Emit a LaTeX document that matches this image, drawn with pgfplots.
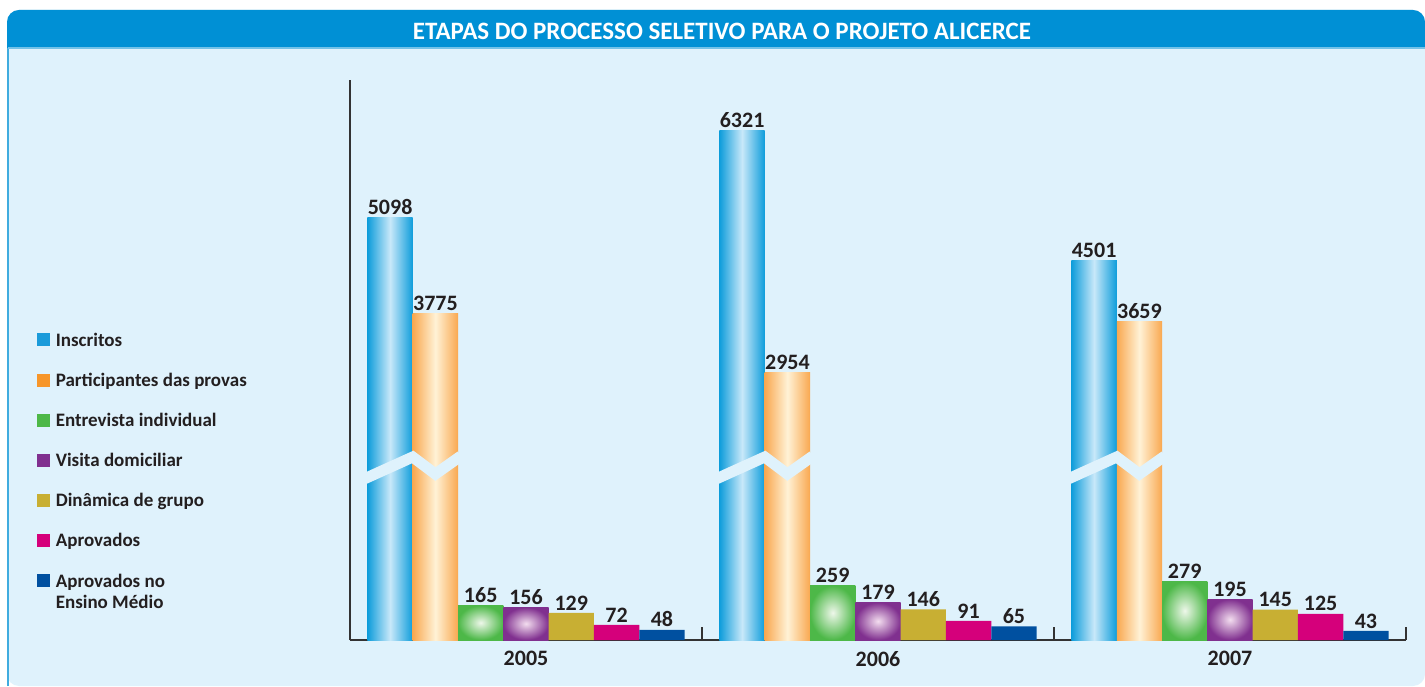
\documentclass[border=0pt]{standalone}
\usepackage{pgfplots}
\pgfplotsset{compat=1.18}
\usepackage{pgfplotstable}
\usepackage{fontspec}
\setmainfont{Carlito}

\definecolor{cbg}{HTML}{DFF2FC}
\definecolor{chead}{HTML}{0090D5}
\definecolor{ctext}{HTML}{231F20}
\definecolor{cins}{HTML}{1A9BDA}
\definecolor{cinse}{HTML}{0E9DDB}
\definecolor{cinsl}{HTML}{C8E8F9}
\definecolor{cpar}{HTML}{F7962A}
\definecolor{cpare}{HTML}{F9A850}
\definecolor{cparl}{HTML}{FFF2D6}
\definecolor{cent}{HTML}{4DB848}
\definecolor{centl}{HTML}{EEF7EA}
\definecolor{cvis}{HTML}{80308F}
\definecolor{cvisl}{HTML}{F3DDEF}
\definecolor{cdin}{HTML}{C8AF33}
\definecolor{capr}{HTML}{D5007B}
\definecolor{cem}{HTML}{0050A0}

% values per year (x = 0, 1, 2 -> 2005, 2006, 2007)
\pgfplotstableread{
x ins  part entr vis din apr aprem
0 5098 3775 165  156 129 72  48
1 6321 2954 259  179 146 91  65
2 4501 3659 279  195 145 125 43
}\etapas

% broken scale: small values linear below the cut, large ones compressed above it
\newcommand{\brk}[1]{((#1)<1000 ? 0.21*(#1) : 55.5+0.0719*(#1))}

\begin{document}
\begin{tikzpicture}[font=\bfseries]
\path[use as bounding box] (0,0) rectangle (712.5pt,343pt);
\fill[white] (0,0) rectangle (712.5pt,343pt);
% panel and header band
\fill[cbg, rounded corners=6pt] (3.5pt,0) |- (712.5pt,338pt) -- (712.5pt,0) -- cycle;
\fill[chead] (3.5pt,319pt) [rounded corners=6pt] -- (3.5pt,338pt) -- (712.5pt,338pt) [sharp corners] -- (712.5pt,319pt) -- cycle;
\draw[chead!75, line width=0.8pt] (3.9pt,0) -- (3.9pt,319pt);
\draw[chead!55, line width=0.6pt] (3.9pt,319pt) -- (712.5pt,319pt);
\node[text=white, font=\bfseries\fontsize{12.5}{14}\selectfont] at (361pt,327.5pt)
  {ETAPAS DO PROCESSO SELETIVO PARA O PROJETO ALICERCE};

\begin{axis}[
  at={(175pt,23pt)}, anchor=south west,
  scale only axis, width=528pt, height=280pt,
  xmin=-0.5, xmax=2.5, ymin=0, ymax=560,
  axis lines=left,
  axis line style={-, draw=black!80, line width=0.6pt},
  ytick=\empty,
  xtick={0,1,2}, xticklabels={2005,2006,2007},
  major tick length=0pt,
  extra x ticks={0.5,1.5,2.5}, extra x tick labels={},
  extra x tick style={major tick length=6.5pt, tick align=inside,
                      tick style={draw=black!80, line width=0.6pt}},
  xticklabel style={font=\bfseries\fontsize{11}{12}\selectfont, text=ctext, yshift=-2pt},
  ybar=0pt, bar width=0.1287,
  clip=false,
  point meta=explicit symbolic,
  nodes near coords={\pgfplotspointmeta},
  nodes near coords style={font=\bfseries\fontsize{11}{12}\selectfont, text=ctext,
                           inner sep=1.2pt, anchor=south},
  legend image code/.code={\fill[#1] (0pt,0.3pt) rectangle (6pt,6.3pt);},
  legend style={at={(axis description cs:-0.2964,0.557)}, anchor=north west,
                draw=none, fill=none, inner sep=0pt,
                font=\bfseries\fontsize{9.5}{12}\selectfont, text=ctext,
                cells={anchor=base west}, row sep=6.55pt,
                nodes={text height=7pt, text depth=2.5pt, inner xsep=2.8pt}},
]
% one plot per series and year, so that every bar gets its own shading
\pgfplotsinvokeforeach{0,1,2}{
\addplot[forget plot, draw=none, bar shift=-0.3861,
         left color=cinse, right color=cinse, middle color=cinsl,
         x filter/.expression={abs(x-#1)<0.1 ? x : nan}]
  table[x=x, y expr={\brk{\thisrow{ins}}}, meta=ins] {\etapas};
\addplot[forget plot, draw=none, bar shift=-0.2574,
         left color=cpare, right color=cpare, middle color=cparl,
         x filter/.expression={abs(x-#1)<0.1 ? x : nan}]
  table[x=x, y expr={\brk{\thisrow{part}}}, meta=part] {\etapas};
\addplot[forget plot, draw=none, bar shift=-0.1287,
         inner color=centl, outer color=cent,
         x filter/.expression={abs(x-#1)<0.1 ? x : nan}]
  table[x=x, y expr={\brk{\thisrow{entr}}}, meta=entr] {\etapas};
\addplot[forget plot, draw=none, bar shift=0,
         inner color=cvisl, outer color=cvis,
         x filter/.expression={abs(x-#1)<0.1 ? x : nan}]
  table[x=x, y expr={\brk{\thisrow{vis}}}, meta=vis] {\etapas};
}
\addplot[forget plot, draw=none, bar shift=0.1287, fill=cdin]
  table[x=x, y expr={\brk{\thisrow{din}}}, meta=din] {\etapas};
\addplot[forget plot, draw=none, bar shift=0.2574, fill=capr]
  table[x=x, y expr={\brk{\thisrow{apr}}}, meta=apr] {\etapas};
\addplot[forget plot, draw=none, bar shift=0.3861, fill=cem]
  table[x=x, y expr={\brk{\thisrow{aprem}}}, meta=aprem] {\etapas};

% axis break bands across the two tall bars
\draw[cbg, line width=5.5pt] (axis cs:-0.46,161) -- (axis cs:-0.3218,183) -- (axis cs:-0.2574,166) -- (axis cs:-0.185,184);
\draw[cbg, line width=5.5pt] (axis cs:0.54,161) -- (axis cs:0.6782,183) -- (axis cs:0.7426,166) -- (axis cs:0.815,184);
\draw[cbg, line width=5.5pt] (axis cs:1.54,161) -- (axis cs:1.6782,183) -- (axis cs:1.7426,166) -- (axis cs:1.815,184);

\addlegendimage{cins}\addlegendentry{Inscritos}
\addlegendimage{cpar}\addlegendentry{Participantes das provas}
\addlegendimage{cent}\addlegendentry{Entrevista individual}
\addlegendimage{cvis}\addlegendentry{Visita domiciliar}
\addlegendimage{cdin}\addlegendentry{Dinâmica de grupo}
\addlegendimage{capr}\addlegendentry{Aprovados}
\addlegendimage{cem}\addlegendentry{\begin{tabular}[t]{@{}l@{}}Aprovados no\\[-1.5pt] Ensino Médio\end{tabular}}
\end{axis}
\end{tikzpicture}
\end{document}
